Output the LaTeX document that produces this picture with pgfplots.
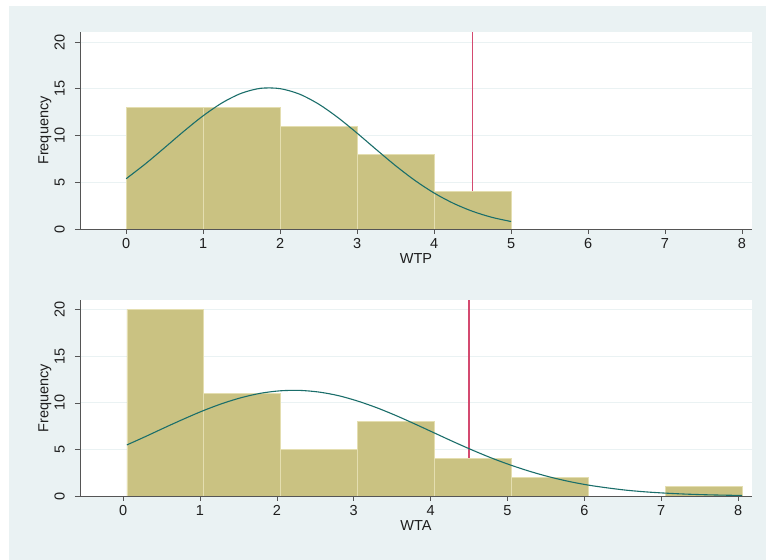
\documentclass[border=0pt]{standalone}
\usepackage{pgfplots}
\pgfplotsset{compat=1.18}
\usepackage{fontspec}
\setmainfont{Liberation Sans}
\definecolor{bg}{RGB}{234,242,243}
\definecolor{barfill}{RGB}{202,194,130}
\definecolor{baredge}{RGB}{228,222,176}
\definecolor{curvec}{RGB}{26,110,106}
\definecolor{vline}{RGB}{212,74,112}
\definecolor{axgray}{RGB}{85,85,85}
\definecolor{txt}{RGB}{30,30,30}
\pgfplotsset{
  statastyle/.style={
    scale only axis,
    width=672bp,
    anchor=south west,
    axis background/.style={fill=white},
    axis x line*=bottom,
    axis y line*=left,
    axis line style={-, axgray, line width=0.8pt},
    tick style={axgray, line width=0.6pt},
    tick align=outside,
    major tick length=5bp,
    ymin=0,
    xtick={0,1,2,3,4,5,6,7,8},
    ytick={0,5,10,15,20},
    ymajorgrids,
    major grid style={bg, line width=0.9pt},
    /pgf/number format/assume math mode=true,
    tick label style={font=\fontsize{14.5bp}{16bp}\selectfont, text=txt},
    yticklabel style={rotate=90, anchor=south, inner sep=0pt, yshift=10bp},
    xticklabel style={anchor=north, inner sep=0pt, yshift=-4bp},
    label style={font=\fontsize{14.5bp}{16bp}\selectfont, text=txt},
    xlabel style={at={(axis description cs:0.5,0)}, anchor=center, yshift=-30bp, inner sep=0pt},
    ylabel style={at={(axis description cs:0,0.5)}, anchor=center, yshift=35bp, inner sep=0pt},
    ylabel={Frequency},
  }
}
\begin{document}
\begin{tikzpicture}
\fill[white] (0bp,0bp) rectangle (766bp,560bp);
\fill[bg] (9bp,0bp) rectangle (766bp,554bp);
% Top panel: WTP
\begin{axis}[statastyle, at={(80bp,331bp)}, height=197bp,
  xmin=-0.6, xmax=8.13, ymax=21.07, xlabel={WTP}]
\addplot[vline, line width=1.6pt] coordinates {(4.5,0) (4.5,21.07)};
\addplot[ybar interval, fill=barfill, draw=baredge, line width=0.8pt]
  coordinates {(0,13) (1,13) (2,11) (3,8) (4,4) (5,4)};
\addplot[curvec, line width=1.1pt, smooth] coordinates {
(0,5.38) (0.25,6.97) (0.5,8.70) (0.75,10.46) (1,12.11) (1.25,13.51)
(1.5,14.53) (1.75,15.05) (2,15.01) (2.25,14.43) (2.5,13.36) (2.75,11.92)
(3,10.25) (3.25,8.49) (3.5,6.77) (3.75,5.20) (4,3.85) (4.25,2.75)
(4.5,1.89) (4.75,1.25) (5,0.80)};
\end{axis}
% Bottom panel: WTA
\begin{axis}[statastyle, at={(80bp,64bp)}, height=196bp,
  xmin=-0.56, xmax=8.18, ymax=21.03, xlabel={WTA}]
\addplot[vline, line width=1.6pt] coordinates {(4.5,0) (4.5,21.03)};
\addplot[ybar interval, fill=barfill, draw=baredge, line width=0.8pt]
  coordinates {(0.05,20) (1.05,11) (2.05,5) (3.05,8) (4.05,4) (5.05,2) (6.05,0) (7.05,1) (8.05,1)};
\addplot[curvec, line width=1.1pt, smooth] coordinates {
(0.05,5.48) (0.3,6.41) (0.55,7.37) (0.8,8.30) (1.05,9.18) (1.3,9.95)
(1.55,10.58) (1.8,11.04) (2.05,11.29) (2.3,11.33) (2.55,11.15) (2.8,10.77)
(3.05,10.19) (3.3,9.47) (3.55,8.63) (3.8,7.71) (4.05,6.76) (4.3,5.81)
(4.55,4.90) (4.8,4.05) (5.05,3.29) (5.3,2.62) (5.55,2.04) (5.8,1.56)
(6.05,1.17) (6.3,0.87) (6.55,0.62) (6.8,0.44) (7.05,0.31) (7.3,0.21)
(7.55,0.14) (7.8,0.092) (8.05,0.059)};
\end{axis}
\end{tikzpicture}
\end{document}
